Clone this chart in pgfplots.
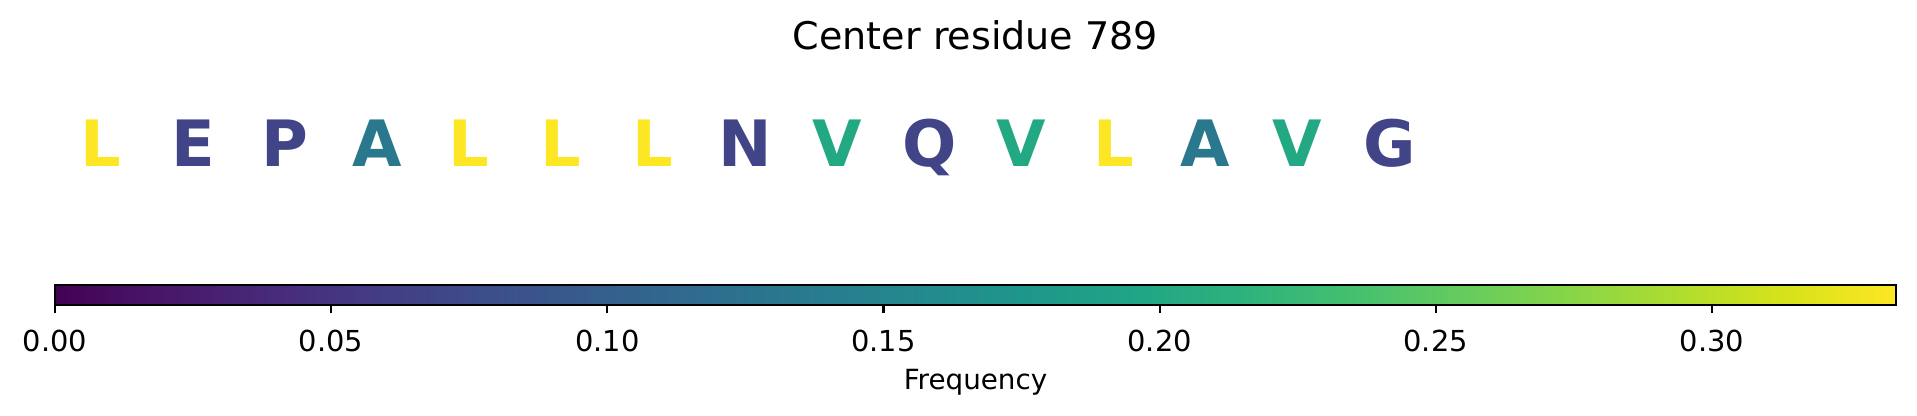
\documentclass[border=0pt]{standalone}
\usepackage{fontspec}
\setmainfont{DejaVu Sans}
\usepackage{pgfplots}
\usepackage{pgfplotstable}
\pgfplotsset{compat=1.18}

\pgfplotstableread{
x y f letter
0 249.3 0.333333 L
1 249.3 0.066667 E
2 249.3 0.066667 P
3 249.3 0.133333 A
4 249.3 0.333333 L
5 249.3 0.333333 L
6 249.3 0.333333 L
7 249.3 0.066667 N
8 249.3 0.200000 V
9 249.3 0.066667 Q
10 249.3 0.200000 V
11 249.3 0.333333 L
12 249.3 0.133333 A
13 249.3 0.200000 V
14 249.3 0.066667 G
}\letters

\begin{document}
\begin{tikzpicture}
\begin{axis}[
  at={(19.8pt,47.16pt)}, anchor=south west,
  scale only axis,
  width=662.76pt, height=102.6pt,
  xmin=-0.5, xmax=19.5,
  ymin=131, ymax=416,
  axis lines=none,
  clip=false,
  colormap/viridis,
  point meta min=0, point meta max=0.333333,
  title={Center residue 789},
  title style={at={(0.5,0.7661)}, anchor=base, font=\fontsize{13.7}{16}\selectfont, inner sep=0pt},
  colorbar horizontal,
  colorbar shift/.style={},
  colorbar style={
    scale only axis,
    width=662.76pt, height=7.2pt,
    at={(parent axis.south west)}, anchor=north west,
    xmin=0, xmax=0.333333,
    xtick={0,0.05,0.10,0.15,0.20,0.25,0.30},
    xtick pos=bottom,
    tick align=outside,
    major tick length=2.88pt,
    every tick/.style={black, line width=0.8pt},
    axis line style={line width=0.8pt},
    xticklabel style={/pgf/number format/fixed, /pgf/number format/fixed zerofill, /pgf/number format/precision=2, /pgf/number format/assume math mode=true, font=\fontsize{10.4}{12}\selectfont, anchor=base, yshift=-14.0pt},
    xlabel={Frequency},
    xlabel style={font=\fontsize{10}{12}\selectfont, at={(0.5,-4.23)}, anchor=base, inner sep=0pt},
  },
]
\addplot[only marks, mark=*, mark size=0pt, mark options={draw=none, fill=none},
  point meta=explicit symbolic,
  visualization depends on={3000*\thisrow{f}\as\mm},
  nodes near coords={\pgfplotscolormapdefinemappedcolor{\mm}\textcolor{mapped color}{\pgfplotspointmeta}},
  every node near coord/.append style={font=\fontsize{23}{23}\selectfont\bfseries, anchor=base, inner sep=0pt},
] table[x=x, y=y, meta=letter] {\letters};
\end{axis}
\path (0,0) rectangle (690.12pt,149.76pt);
\end{tikzpicture}
\end{document}
